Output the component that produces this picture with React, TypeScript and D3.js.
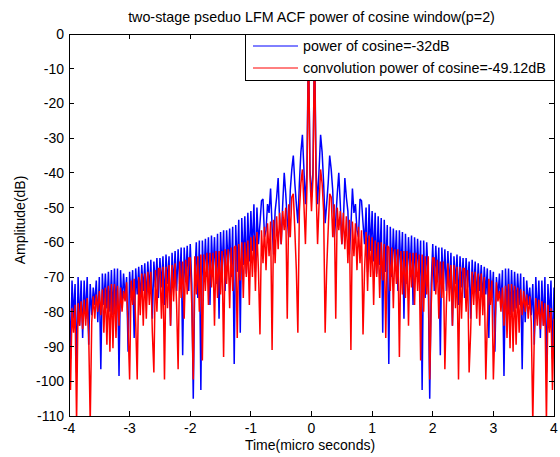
import React from "react";
import * as d3 from "d3";

const TITLE = "two-stage pseduo LFM ACF power of cosine window(p=2)";
const X_LABEL = "Time(micro seconds)";
const Y_LABEL = "Amplitude(dB)";
const LEGEND_LABELS = ["power of cosine=-32dB", "convolution power of cosine=-49.12dB"];
const X_TICKS = [-4, -3, -2, -1, 0, 1, 2, 3, 4];
const Y_TICKS = [0, -10, -20, -30, -40, -50, -60, -70, -80, -90, -100, -110];

// samples start at t = -4 us, spaced 0.025 us apart
const T_START = -4;
const T_STEP = 0.025;

const BLUE_DB = [
  -73, -93.5, -71, -82, -72, -97.5, -70, -84, -71, -87.5,
  -71, -82, -70, -89.5, -72, -81, -73, -78, -71, -83,
  -70, -96.5, -69, -78, -69, -79, -68.5, -80, -68, -81,
  -67.5, -80, -67.5, -98.5, -68, -78, -69, -76, -70, -91.5,
  -68.5, -76, -68, -87.5, -67.5, -75, -67, -77, -66.5, -74,
  -66, -77, -65.5, -74, -65, -82, -65.5, -73, -64.5, -76,
  -64.5, -73, -64, -78, -63.5, -72, -64, -84, -63, -73,
  -62.5, -74, -62, -72, -61.5, -92.5, -61.5, -71, -61, -74,
  -60.5, -72, -105, -70, -60, -76, -59.5, -102.5, -59.5, -71,
  -59, -70, -58.5, -78, -58, -69, -58.5, -72, -57.5, -82,
  -57, -68.5, -56.5, -74, -56.5, -67.5, -56, -70, -55.5, -95,
  -55, -68.5, -53.5, -86, -53, -66.5, -52.5, -69, -51.5, -65.5,
  -51, -62.5, -49, -68.5, -50, -60.5, -54.5, -48, -47.5, -58.5,
  -56.5, -49, -51.5, -44.5, -55.5, -63.5, -51, -47, -41.5, -54.5,
  -60.5, -49, -40, -46, -53.5, -58.5, -45, -39, -35, -43,
  -49, -54.5, -43, -34, -29, -39, -49, -39, 0, -39,
  -47,
  -39, 0, -39, -49, -39, -29, -34, -43, -54.5, -49,
  -43, -35, -39, -45, -58.5, -53.5, -46, -40, -49, -60.5,
  -54.5, -41.5, -47, -51, -63.5, -55.5, -44.5, -51.5, -49, -56.5,
  -58.5, -47.5, -48, -54.5, -60.5, -50, -68.5, -49, -62.5, -51,
  -65.5, -51.5, -69, -52.5, -66.5, -53, -86, -53.5, -68.5, -55,
  -95, -55.5, -70, -56, -67.5, -56.5, -74, -56.5, -68.5, -57,
  -82, -57.5, -72, -58.5, -69, -58, -78, -58.5, -70, -59,
  -71, -59.5, -102.5, -59.5, -76, -60, -70, -105, -72, -60.5,
  -74, -61, -71, -61.5, -92.5, -61.5, -72, -62, -74, -62.5,
  -73, -63, -84, -64, -72, -63.5, -78, -64, -73, -64.5,
  -76, -64.5, -73, -65.5, -82, -65, -74, -65.5, -77, -66,
  -74, -66.5, -77, -67, -75, -67.5, -87.5, -68, -76, -68.5,
  -91.5, -70, -76, -69, -78, -68, -98.5, -67.5, -80, -67.5,
  -81, -68, -80, -68.5, -79, -69, -78, -69, -96.5, -70,
  -83, -71, -78, -73, -81, -72, -89.5, -70, -82, -71,
  -87.5, -71, -84, -70, -97.5, -72, -82, -71, -93.5, -73,
];

const RED_DB = [
  -82, -102.5, -79, -86, -78, -112, -77.5, -84, -77, -85,
  -76.5, -84, -76, -86.5, -112, -83, -75.5, -82, -75, -80,
  -74, -81, -73.5, -86, -73, -89.5, -72.5, -91.5, -72, -90.5,
  -72, -87.5, -72.5, -84, -73, -80, -74, -77, -71.5, -85,
  -99.5, -71, -78, -70.5, -83, -99.5, -70, -81, -69, -84,
  -69, -82, -68.5, -78, -68.5, -86, -97.5, -68, -80, -67.5,
  -67.5, -82, -67, -99.5, -67, -79, -66.5, -84, -66.5, -77,
  -66, -78, -96.5, -65.5, -76, -65.5, -82, -65, -75, -64.5,
  -64.5, -78, -99.5, -64, -75, -64, -80, -63.5, -94, -63.5,
  -74, -63, -78, -63, -73, -63, -84, -62.5, -76, -62.5,
  -75, -62.5, -93, -62, -72, -62, -79, -61.5, -74, -61.5,
  -61, -87.5, -60.5, -71, -60, -76, -60, -70, -59.5, -78,
  -58.5, -70, -58, -74, -57, -68, -86.5, -56.5, -66, -55.5,
  -68, -54.5, -64, -54, -91, -53.5, -66, -52.5, -62, -51.5,
  -60.5, -51, -56.5, -50, -82, -49, -58.5, -47, -46, -56.5,
  -68, -86, -51, -43, -39, -49, -60.5, -44, 0, -41,
  -51,
  -41, 0, -44, -60.5, -49, -39, -43, -51, -86, -68,
  -56.5, -46, -47, -58.5, -49, -82, -50, -56.5, -51, -60.5,
  -51.5, -62, -52.5, -66, -53.5, -91, -54, -64, -54.5, -68,
  -55.5, -66, -56.5, -86.5, -68, -57, -74, -58, -70, -58.5,
  -78, -59.5, -70, -60, -76, -60, -71, -60.5, -87.5, -61,
  -61.5, -74, -61.5, -79, -62, -72, -62, -93, -62.5, -75,
  -62.5, -76, -62.5, -84, -63, -73, -63, -78, -63, -74,
  -63.5, -94, -63.5, -80, -64, -75, -64, -99.5, -78, -64.5,
  -64.5, -75, -65, -82, -65.5, -76, -65.5, -96.5, -78, -66,
  -77, -66.5, -84, -66.5, -79, -67, -99.5, -67, -82, -67.5,
  -67.5, -80, -68, -97.5, -86, -68.5, -78, -68.5, -82, -69,
  -84, -69, -81, -70, -99.5, -83, -70.5, -78, -71, -99.5,
  -85, -71.5, -77, -74, -80, -73, -84, -72.5, -87.5, -72,
  -90.5, -72, -91.5, -72.5, -89.5, -73, -86, -73.5, -81, -74,
  -80, -75, -82, -75.5, -83, -112, -86.5, -76, -84, -76.5,
  -85, -77, -84, -77.5, -112, -78, -86, -79, -102.5, -82,
];

const SERIES = [
  { values: BLUE_DB, color: "#0000ff" },
  { values: RED_DB, color: "#ff0000" },
];

const FONT = "'Liberation Sans', Arial, Helvetica, sans-serif";
const FS = 14;
const FS_TEXT = 14.3;

export default function App() {
  const W = 560;
  const H = 457;
  const L = 69, R = 554, T = 34, B = 416;
  const x = d3.scaleLinear().domain([-4, 4]).range([L, R]);
  const y = d3.scaleLinear().domain([-110, 0]).range([B, T]);
  const line = d3
    .line<number>()
    .x((_, i) => x(T_START + i * T_STEP))
    .y((d) => y(d));
  const tickLen = 5;
  const legX = 245, legY = T, legW = R - 245, legH = 46;

  return (
    <svg
      width={W}
      height={H}
      style={{ position: "absolute", left: 0, top: 0, background: "#fff" }}
      fontFamily={FONT}
      fontSize={FS}
    >
      <rect x={0} y={0} width={W} height={H} fill="#fff" />
      <defs>
        <clipPath id="plotclip">
          <rect x={L} y={T} width={R - L} height={B - T} />
        </clipPath>
      </defs>
      <g clipPath="url(#plotclip)">
        {SERIES.map((s, k) => (
          <path
            key={k}
            d={line(s.values) || ""}
            fill="none"
            stroke={s.color}
            strokeWidth={1.5}
            strokeLinejoin="miter"
            strokeMiterlimit={2}
          />
        ))}
      </g>
      {/* axes box */}
      <rect x={L} y={T} width={R - L} height={B - T} fill="none" stroke="#000" strokeWidth={1} shapeRendering="crispEdges" />
      {/* x ticks */}
      {X_TICKS.map((t) => (
        <g key={"x" + t}>
          <line x1={x(t)} x2={x(t)} y1={B} y2={B - tickLen} stroke="#000" shapeRendering="crispEdges" />
          <line x1={x(t)} x2={x(t)} y1={T} y2={T + tickLen} stroke="#000" shapeRendering="crispEdges" />
          <text x={x(t)} y={433} textAnchor="middle" fill="#000">{t}</text>
        </g>
      ))}
      {/* y ticks */}
      {Y_TICKS.map((v) => (
        <g key={"y" + v}>
          <line x1={L} x2={L + tickLen} y1={y(v)} y2={y(v)} stroke="#000" shapeRendering="crispEdges" />
          <line x1={R} x2={R - tickLen} y1={y(v)} y2={y(v)} stroke="#000" shapeRendering="crispEdges" />
          <text x={64} y={y(v)} dy="0.36em" textAnchor="end" fill="#000">{v}</text>
        </g>
      ))}
      {/* legend */}
      <rect x={legX} y={legY} width={legW} height={legH} fill="#fff" stroke="#000" strokeWidth={1} shapeRendering="crispEdges" />
      {SERIES.map((s, k) => (
        <g key={"leg" + k}>
          <line x1={253} x2={298} y1={46 + k * 22} y2={46 + k * 22} stroke={s.color} strokeWidth={1} />
          <text x={303} y={51 + k * 22} fontSize={FS_TEXT} fill="#000">{LEGEND_LABELS[k]}</text>
        </g>
      ))}
      {/* labels */}
      <text x={(L + R) / 2} y={22} textAnchor="middle" fontSize={FS_TEXT} fill="#000">{TITLE}</text>
      <text x={310} y={450} textAnchor="middle" fill="#000">{X_LABEL}</text>
      <text transform={`translate(25, ${(T + B) / 2 - 5}) rotate(-90)`} textAnchor="middle" fill="#000">{Y_LABEL}</text>
    </svg>
  );
}
